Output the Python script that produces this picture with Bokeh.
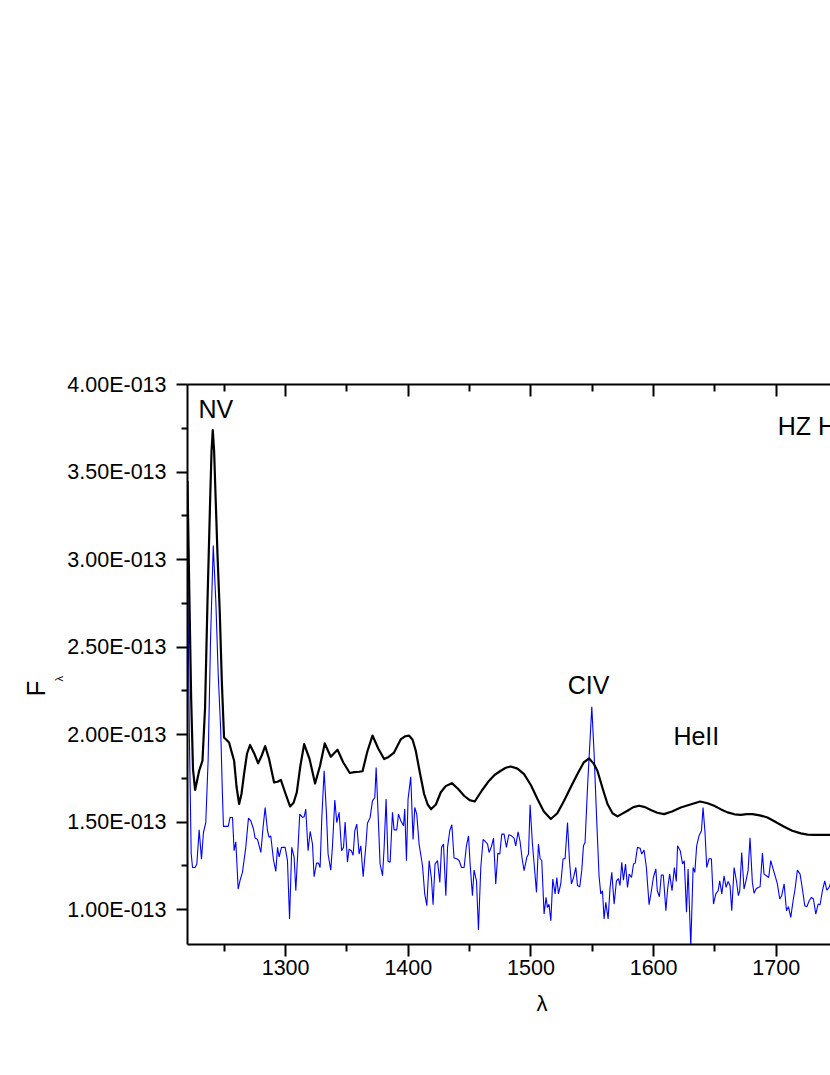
from bokeh.plotting import figure
from bokeh.models import Range1d, LinearAxis, FixedTicker, CustomJSTickFormatter, Title, ColumnDataSource
from bokeh.core.properties import value
from bokeh.embed import file_html
from bokeh.resources import INLINE

# ---- data (flux in units of 1e-13) ----
model_wl = [1220.0, 1221.5, 1223.0, 1224.5, 1226.2, 1229.5, 1232.2, 1234.3, 1236.3, 1238.5,
            1239.6, 1240.6, 1241.7, 1242.8, 1244.5, 1246.3, 1248.0, 1249.8, 1253.9, 1256.0,
            1258.0, 1260.0, 1262.1, 1264.0, 1266.1, 1268.5, 1271.0, 1274.5, 1277.6, 1280.5,
            1283.3, 1286.5, 1290.6, 1293.5, 1296.1, 1299.5, 1303.6, 1306.5, 1309.1, 1312.0,
            1315.1, 1319.5, 1324.0, 1328.0, 1331.9, 1336.8, 1342.3, 1347.0, 1352.3, 1356.0,
            1359.9, 1362.7, 1366.5, 1370.8, 1375.5, 1380.3, 1384.0, 1388.4, 1394.0, 1397.5,
            1400.6, 1403.5, 1406.1, 1409.5, 1412.9, 1415.8, 1418.5, 1422.5, 1426.5, 1430.5,
            1435.5, 1440.5, 1445.5, 1450.0, 1454.2, 1460.0, 1465.9, 1470.5, 1475.4, 1479.5,
            1483.6, 1489.0, 1494.4, 1500.0, 1505.3, 1510.5, 1516.2, 1521.5, 1527.0, 1532.5,
            1537.9, 1543.0, 1547.4, 1551.0, 1554.2, 1558.5, 1562.4, 1566.5, 1570.5, 1574.5,
            1578.7, 1583.5, 1588.2, 1593.0, 1597.7, 1603.0, 1608.5, 1615.0, 1622.1, 1630.0,
            1637.9, 1644.0, 1649.3, 1655.0, 1660.2, 1666.0, 1671.0, 1676.0, 1680.6, 1686.5,
            1692.8, 1699.5, 1706.4, 1713.0, 1720.0, 1725.5, 1730.8, 1737.0, 1744.4]
model_flux = [3.45, 2.80, 2.20, 1.80, 1.683, 1.793, 1.85, 2.15, 2.76, 3.35,
              3.62, 3.74, 3.62, 3.38, 3.02, 2.70, 2.30, 1.983, 1.954, 1.90,
              1.85, 1.70, 1.603, 1.66, 1.774, 1.89, 1.94, 1.89, 1.835, 1.88,
              1.934, 1.86, 1.726, 1.73, 1.741, 1.67, 1.589, 1.61, 1.669, 1.82,
              1.945, 1.86, 1.72, 1.82, 1.949, 1.873, 1.913, 1.84, 1.78, 1.785,
              1.787, 1.79, 1.90, 1.994, 1.92, 1.86, 1.872, 1.897, 1.974, 1.99,
              1.994, 1.97, 1.907, 1.78, 1.66, 1.60, 1.573, 1.60, 1.67, 1.705,
              1.722, 1.69, 1.65, 1.625, 1.617, 1.68, 1.736, 1.77, 1.793, 1.81,
              1.817, 1.805, 1.774, 1.71, 1.631, 1.56, 1.517, 1.55, 1.621, 1.70,
              1.774, 1.84, 1.863, 1.835, 1.793, 1.69, 1.603, 1.55, 1.532, 1.548,
              1.564, 1.585, 1.593, 1.585, 1.568, 1.553, 1.545, 1.56, 1.583, 1.60,
              1.617, 1.607, 1.593, 1.572, 1.555, 1.544, 1.541, 1.545, 1.545, 1.538,
              1.526, 1.50, 1.473, 1.45, 1.435, 1.428, 1.426, 1.426, 1.426]

obs_wl = [1220.0, 1221.5, 1223.0, 1224.1, 1226.2, 1227.6, 1229.5, 1231.4, 1233.0, 1234.9,
          1236.8, 1238.8, 1241.0, 1243.1, 1245.0, 1247.1, 1248.3, 1249.3, 1253.2, 1254.7,
          1256.7, 1258.0, 1259.4, 1261.3, 1262.9, 1264.8, 1267.5, 1269.7, 1271.6, 1273.8,
          1275.1, 1277.1, 1279.8, 1281.6, 1283.3, 1285.2, 1286.5, 1287.9, 1290.1, 1292.0,
          1293.4, 1294.7, 1296.6, 1299.6, 1301.5, 1303.2, 1305.0, 1306.9, 1308.3, 1311.5,
          1313.7, 1315.1, 1316.4, 1318.3, 1320.0, 1321.9, 1323.2, 1325.2, 1326.8, 1328.1,
          1329.5, 1331.4, 1333.3, 1334.6, 1336.8, 1338.2, 1340.1, 1341.7, 1343.6, 1345.6,
          1347.2, 1348.5, 1350.4, 1351.7, 1353.6, 1355.0, 1356.4, 1358.0, 1359.9, 1361.3,
          1363.2, 1365.4, 1366.7, 1368.9, 1370.8, 1372.7, 1373.8, 1375.4, 1377.0, 1379.0,
          1380.3, 1381.9, 1383.5, 1385.2, 1387.1, 1388.4, 1390.6, 1392.0, 1393.9, 1396.1,
          1397.1, 1398.5, 1399.8, 1402.0, 1403.9, 1405.3, 1406.9, 1408.8, 1411.6, 1413.4,
          1415.1, 1417.0, 1418.9, 1420.2, 1421.8, 1423.8, 1425.7, 1427.1, 1428.7, 1430.6,
          1432.0, 1433.8, 1435.5, 1437.3, 1439.5, 1441.4, 1443.4, 1445.5, 1447.4, 1449.1,
          1450.4, 1452.3, 1453.6, 1455.6, 1457.2, 1459.1, 1461.0, 1462.6, 1464.6, 1465.9,
          1467.8, 1469.5, 1471.3, 1473.0, 1474.6, 1476.2, 1478.1, 1480.0, 1481.9, 1484.1,
          1486.2, 1487.6, 1489.5, 1491.1, 1492.8, 1494.4, 1496.6, 1498.0, 1499.3, 1501.2,
          1502.6, 1504.5, 1506.1, 1507.5, 1508.8, 1510.7, 1512.3, 1513.4, 1514.7, 1516.2,
          1517.8, 1519.7, 1521.1, 1522.4, 1524.3, 1526.2, 1527.8, 1529.8, 1531.4, 1533.0,
          1534.7, 1536.6, 1537.9, 1539.8, 1541.4, 1542.8, 1544.1, 1546.1, 1549.6, 1551.5,
          1553.4, 1555.5, 1556.9, 1558.3, 1559.6, 1561.0, 1562.9, 1564.5, 1565.9, 1567.8,
          1569.7, 1571.3, 1572.6, 1574.0, 1575.4, 1577.1, 1578.7, 1580.1, 1582.0, 1583.6,
          1585.0, 1586.8, 1589.0, 1590.3, 1592.2, 1594.1, 1596.3, 1598.2, 1599.8, 1601.8,
          1603.0, 1604.7, 1606.3, 1607.9, 1610.0, 1611.4, 1613.1, 1615.0, 1616.9, 1618.5,
          1619.5, 1621.7, 1623.6, 1625.0, 1626.8, 1628.1, 1630.3, 1632.2, 1633.6, 1635.1,
          1637.0, 1639.0, 1640.3, 1641.9, 1643.3, 1645.2, 1647.1, 1648.8, 1650.7, 1652.6,
          1653.9, 1655.6, 1657.4, 1659.1, 1660.7, 1662.3, 1663.7, 1665.6, 1667.5, 1669.1,
          1670.2, 1671.8, 1673.7, 1675.3, 1677.0, 1678.6, 1680.5, 1681.9, 1683.5, 1685.1,
          1686.8, 1688.7, 1690.0, 1692.0, 1693.8, 1695.5, 1697.4, 1699.0, 1700.9, 1702.8,
          1704.4, 1706.4, 1708.3, 1709.9, 1711.8, 1713.7, 1715.3, 1717.2, 1719.4, 1721.3,
          1723.2, 1724.9, 1726.8, 1728.7, 1730.3, 1732.2, 1734.1, 1735.7, 1737.6, 1739.5,
          1741.2, 1743.1, 1744.4]
obs_flux = [3.05, 2.00, 1.32, 1.24, 1.24, 1.26, 1.455, 1.288, 1.44, 1.497,
            1.85, 2.55, 3.08, 2.76, 2.35, 2.02, 1.70, 1.475, 1.475, 1.526,
            1.526, 1.336, 1.387, 1.117, 1.168, 1.212, 1.355, 1.522, 1.507, 1.46,
            1.408, 1.40, 1.326, 1.469, 1.583, 1.45, 1.412, 1.42, 1.283, 1.218,
            1.355, 1.30, 1.355, 1.355, 1.279, 0.946, 1.355, 1.30, 1.107, 1.545,
            1.526, 1.53, 1.574, 1.336, 1.446, 1.374, 1.187, 1.265, 1.265, 1.24,
            1.526, 1.793, 1.545, 1.317, 1.225, 1.364, 1.625, 1.497, 1.555, 1.336,
            1.355, 1.50, 1.27, 1.345, 1.336, 1.31, 1.45, 1.488, 1.317, 1.364,
            1.187, 1.364, 1.493, 1.526, 1.621, 1.64, 1.811, 1.545, 1.26, 1.193,
            1.355, 1.631, 1.275, 1.27, 1.555, 1.455, 1.455, 1.545, 1.507, 1.478,
            1.574, 1.279, 1.631, 1.758, 1.40, 1.583, 1.545, 1.374, 1.25, 1.089,
            1.022, 1.279, 1.174, 1.027, 1.26, 1.279, 1.155, 1.355, 1.374, 1.079,
            1.355, 1.45, 1.484, 1.294, 1.29, 1.28, 1.24, 1.24, 1.364, 1.421,
            1.26, 1.079, 1.225, 1.164, 0.883, 1.24, 1.40, 1.39, 1.374, 1.326,
            1.36, 1.408, 1.146, 1.322, 1.317, 1.431, 1.431, 1.355, 1.427, 1.421,
            1.408, 1.364, 1.444, 1.39, 1.29, 1.222, 1.298, 1.317, 1.598, 1.374,
            1.26, 1.098, 1.374, 1.29, 1.28, 0.974, 1.07, 1.012, 1.03, 0.936,
            1.174, 1.089, 1.183, 1.089, 1.146, 1.29, 1.29, 1.497, 1.279, 1.146,
            1.183, 1.24, 1.137, 1.13, 1.222, 1.364, 1.383, 1.697, 2.158, 1.888,
            1.545, 1.193, 1.089, 1.107, 0.946, 1.041, 0.946, 1.126, 1.212, 1.031,
            1.164, 1.177, 1.137, 1.27, 1.168, 1.26, 1.126, 1.202, 1.183, 1.26,
            1.265, 1.355, 1.35, 1.317, 1.34, 1.24, 1.027, 1.107, 1.183, 1.232,
            1.107, 1.073, 1.197, 1.197, 0.993, 1.117, 1.202, 1.107, 1.24, 1.16,
            1.364, 1.336, 1.26, 1.279, 0.984, 1.232, 0.79, 1.24, 1.212, 1.364,
            1.421, 1.45, 1.583, 1.44, 1.24, 1.29, 1.29, 1.031, 1.089, 1.107,
            1.164, 1.089, 1.193, 1.126, 1.16, 1.137, 0.993, 1.24, 1.164, 1.079,
            1.107, 1.326, 1.117, 1.164, 1.222, 1.41, 1.155, 1.093, 1.117, 1.126,
            1.13, 1.322, 1.202, 1.193, 1.183, 1.279, 1.232, 1.193, 1.146, 1.06,
            1.079, 1.146, 0.993, 1.016, 0.955, 1.05, 1.117, 1.225, 1.202, 1.117,
            1.022, 1.016, 1.05, 1.069, 1.06, 0.974, 1.031, 1.027, 1.107, 1.164,
            1.111, 1.126, 1.155]

x_major = [1300, 1400, 1500, 1600, 1700]
x_minor = [1250, 1350, 1450, 1550, 1650, 1750]
y_major = [1.0, 1.5, 2.0, 2.5, 3.0, 3.5, 4.0]
y_minor = [1.25, 1.75, 2.25, 2.75, 3.25, 3.75]

line_labels = ["NV", "CIV", "HeII"]
line_label_x = [1243.1, 1546.9, 1634.8]
line_label_y = [3.86, 2.284, 1.993]
title_text = "HZ Her"
x_title = "λ"
y_title = "F"
y_title_sub = "λ"

FONT = "Liberation Sans"

p = figure(width=830, height=1070,
           x_range=Range1d(1220, 1744.2), y_range=Range1d(0.8, 4.0),
           output_backend="svg", toolbar_location=None,
           min_border_left=187, min_border_right=0,
           min_border_top=384, min_border_bottom=126)
p.outline_line_color = None
p.xgrid.grid_line_color = None
p.ygrid.grid_line_color = None
p.background_fill_color = "white"
p.border_fill_color = "white"

xa = p.xaxis[0]
xa.ticker = FixedTicker(ticks=x_major, minor_ticks=x_minor)
ya = p.yaxis[0]
ya.ticker = FixedTicker(ticks=y_major, minor_ticks=y_minor)
ya.formatter = CustomJSTickFormatter(code="return tick.toFixed(2) + 'E-013';")

for ax in (xa, ya):
    ax.axis_line_width = 2
    ax.axis_line_color = "black"
    ax.major_tick_line_width = 2
    ax.minor_tick_line_width = 2
    ax.major_tick_in = 0
    ax.minor_tick_in = 0
    ax.major_label_text_font = FONT
    ax.major_label_text_font_size = "21.5px"
    ax.major_label_text_color = "black"
xa.major_tick_out = 12
xa.minor_tick_out = 7
xa.major_label_standoff = 3
ya.major_tick_out = 11
ya.minor_tick_out = 6
ya.major_label_standoff = 10

top = LinearAxis(ticker=FixedTicker(ticks=x_major, minor_ticks=x_minor),
                 formatter=CustomJSTickFormatter(code="return '';"))
top.axis_line_width = 2
top.major_tick_line_width = 2
top.minor_tick_line_width = 2
top.major_tick_in = 12
top.major_tick_out = 0
top.minor_tick_in = 7
top.minor_tick_out = 0
top.major_label_text_font_size = "1px"
p.add_layout(top, "above")

src_model = ColumnDataSource(data=dict(x=model_wl, y=model_flux))
src_obs = ColumnDataSource(data=dict(x=obs_wl, y=obs_flux))
p.line("x", "y", source=src_obs, line_color="#0000ff", line_width=1.1)
p.line("x", "y", source=src_model, line_color="black", line_width=2.2, line_join="round")

p.text(x=line_label_x, y=line_label_y, text=line_labels,
       text_font=value(FONT), text_font_size="25px", text_color="black",
       text_align="center", text_baseline="middle")
p.text(x=[1701.2], y=[3.763], text=[title_text],
       text_font=value(FONT), text_font_size="25px", text_color="black",
       text_align="left", text_baseline="middle")

# axis titles as side-panel titles
t_x = Title(text=x_title, align="left", offset=349, standoff=22,
            text_font=FONT, text_font_size="22px", text_font_style="normal",
            text_color="black")
p.add_layout(t_x, "below")
t_sub = Title(text=y_title_sub, align="left", offset=263, standoff=0,
              text_font=FONT, text_font_size="11px", text_font_style="normal",
              text_color="black")
p.add_layout(t_sub, "left")
t_f = Title(text=y_title, align="left", offset=248, standoff=0,
            text_font=FONT, text_font_size="26px", text_font_style="normal",
            text_color="black")
p.add_layout(t_f, "left")

open("out.html", "w").write(file_html(p, INLINE))
